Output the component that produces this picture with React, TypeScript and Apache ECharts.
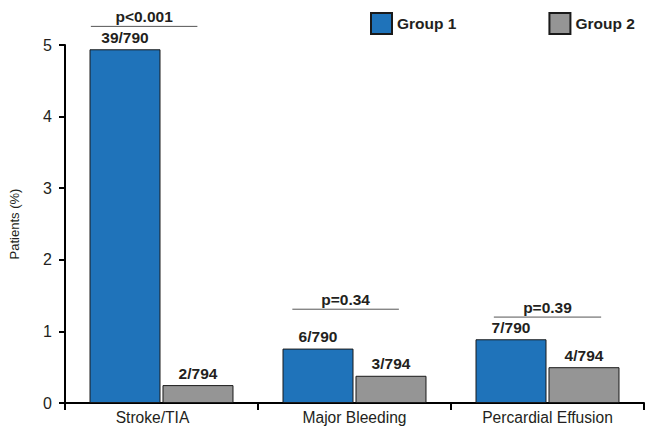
import React, { useEffect, useRef } from "react";
import * as echarts from "echarts";

const categories = ["Stroke/TIA", "Major Bleeding", "Percardial Effusion"];
const group1Values = [4.94, 0.76, 0.89];
const group2Values = [0.25, 0.38, 0.5];
const group1Labels = ["39/790", "6/790", "7/790"];
const group2Labels = ["2/794", "3/794", "4/794"];
const pValueTexts = ["p<0.001", "p=0.34", "p=0.39"];
const pLineStart = [0.134, 1.178, 2.222];
const pLineEnd = [0.686, 1.73, 2.778];
const pLineLevel = [5.26, 1.31, 1.2];
const yTicks = [0, 1, 2, 3, 4, 5];

const FONT = "'Liberation Sans', Arial, Helvetica, sans-serif";
const TEXT = "#231f20";

export default function App() {
  const ref = useRef<HTMLDivElement>(null);
  useEffect(() => {
    if (!ref.current) return;
    const chart = echarts.init(ref.current, undefined, { renderer: "svg" });
    const pData = pValueTexts.map((_, i) => [pLineStart[i], pLineEnd[i], pLineLevel[i]]);
    const catData = categories.map((c, i) =>
      i === 0 ? { value: c, textStyle: { padding: [0, 18, 0, 0] } } : c
    );
    chart.setOption({
      animation: false,
      backgroundColor: "#ffffff",
      textStyle: { fontFamily: FONT },
      legend: {
        left: 365,
        top: 7,
        itemWidth: 21,
        itemHeight: 21,
        itemGap: 92,
        icon: "rect",
        textStyle: { fontFamily: FONT, fontSize: 15.5, fontWeight: "bold", color: TEXT },
        data: ["Group 1", "Group 2"],
      },
      grid: { left: 62, right: 1, top: 45, bottom: 23, containLabel: false },
      xAxis: [
        {
          type: "category",
          data: catData,
          axisLine: { lineStyle: { color: "#000", width: 2 } },
          axisTick: { show: true, length: 7, lineStyle: { color: "#000", width: 2 } },
          axisLabel: { fontFamily: FONT, fontSize: 15.6, color: TEXT, margin: 6 },
        },
        { type: "value", min: 0, max: 3, show: false },
      ],
      yAxis: {
        type: "value",
        min: yTicks[0],
        max: yTicks[yTicks.length - 1],
        interval: 1,
        name: "Patients (%)",
        nameLocation: "middle",
        nameRotate: 90,
        nameGap: 44,
        nameTextStyle: { fontFamily: FONT, fontSize: 13, color: TEXT },
        axisLine: { show: true, lineStyle: { color: "#000", width: 2 } },
        axisTick: { show: true, length: 6, lineStyle: { color: "#000", width: 2 } },
        axisLabel: { fontFamily: FONT, fontSize: 16, color: TEXT, margin: 13 },
        splitLine: { show: false },
      },
      series: [
        {
          name: "Group 1",
          type: "bar",
          data: group1Values,
          barWidth: 71,
          barGap: "2.8%",
          itemStyle: { color: "#1f73ba", borderColor: "#1a1a1a", borderWidth: 1 },
          label: {
            show: true,
            position: "top",
            distance: 4,
            fontFamily: FONT,
            fontSize: 15.5,
            fontWeight: "bold",
            color: TEXT,
            formatter: (p: any) => group1Labels[p.dataIndex],
          },
        },
        {
          name: "Group 2",
          type: "bar",
          data: group2Values,
          barWidth: 71,
          barGap: "2.8%",
          itemStyle: { color: "#959595", borderColor: "#1a1a1a", borderWidth: 1 },
          label: {
            show: true,
            position: "top",
            distance: 4,
            fontFamily: FONT,
            fontSize: 15.5,
            fontWeight: "bold",
            color: TEXT,
            formatter: (p: any) => group2Labels[p.dataIndex],
          },
        },
        {
          type: "custom",
          xAxisIndex: 1,
          yAxisIndex: 0,
          clip: false,
          silent: true,
          data: pData,
          renderItem: (params: any, api: any) => {
            const a = api.coord([api.value(0), api.value(2)]);
            const b = api.coord([api.value(1), api.value(2)]);
            return {
              type: "group",
              children: [
                {
                  type: "line",
                  shape: { x1: a[0], y1: a[1], x2: b[0], y2: b[1] },
                  style: { stroke: "#555", lineWidth: 1 },
                },
                {
                  type: "text",
                  style: {
                    text: pValueTexts[params.dataIndex],
                    x: (a[0] + b[0]) / 2,
                    y: a[1] - 2,
                    align: "center",
                    verticalAlign: "bottom",
                    textAlign: "center",
                    textVerticalAlign: "bottom",
                    font: `bold 15.5px ${FONT}`,
                    fill: TEXT,
                  },
                },
              ],
            };
          },
        },
      ],
    });
    return () => chart.dispose();
  }, []);
  return (
    <div
      ref={ref}
      style={{ position: "absolute", left: 0, top: 0, width: 645, height: 426, background: "#fff" }}
    />
  );
}
